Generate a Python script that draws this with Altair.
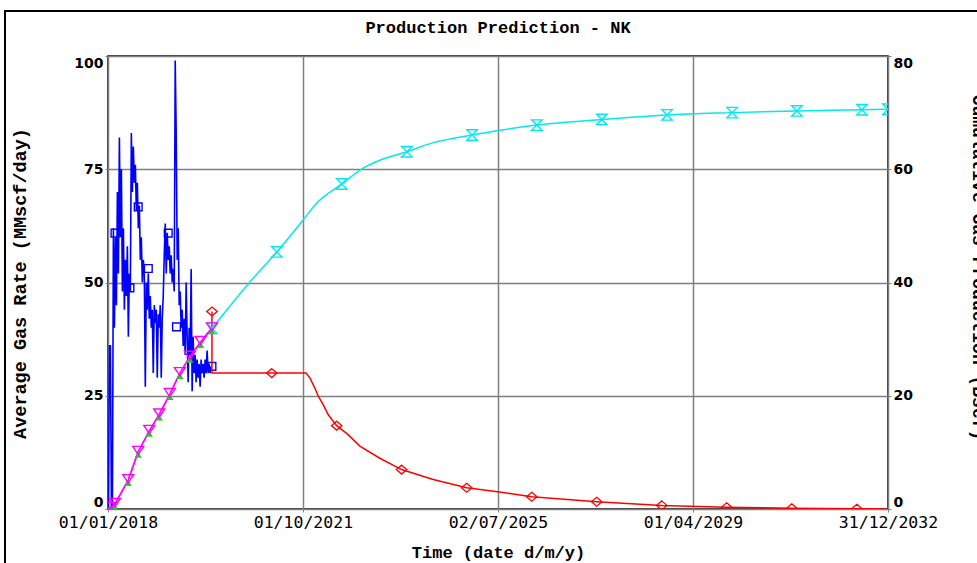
import altair as alt
import pandas as pd

TITLE = "Production Prediction - NK"
X_TITLE = "Time (date d/m/y)"
Y_LEFT_TITLE = "Average Gas Rate (MMscf/day)"
Y_RIGHT_TITLE = "Cumulative Gas Production (Bscf)"

x_tick_dates = [(2018, 1, 1), (2021, 10, 1), (2025, 7, 2), (2029, 4, 1), (2032, 12, 31)]
left_ticks = [0, 25, 50, 75, 100]
right_ticks = [0, 20, 40, 60, 80]

# historical gas rate (weekly), MMscf/day
hist_rate_start = "2018-01-04"
hist_rate_values = [0, 36, 36, 0, 0, 62, 40, 60, 45, 70,
                    52, 82, 60, 75, 48, 62, 44, 55, 47, 58,
                    38, 52, 48, 83, 70, 80, 72, 76, 66, 72,
                    62, 67, 55, 60, 50, 55, 52, 27, 50, 44,
                    52, 42, 47, 40, 44, 30, 45, 41, 44, 29,
                    43, 40, 45, 29, 42, 47, 56, 63, 52, 61,
                    55, 58, 52, 56, 50, 53, 48, 99, 83, 55,
                    62, 45, 48, 40, 44, 36, 42, 34, 50, 38,
                    28, 40, 34, 53, 26, 38, 30, 34, 28, 33,
                    29, 32, 27, 33, 30, 32, 29, 33, 30, 35,
                    30, 32, 30, 31.5]
hist_rate_marker_dates = ["2018-02-19", "2018-06-04", "2018-08-01", "2018-10-11",
                          "2019-02-28", "2019-04-27", "2020-01-01"]
hist_rate_marker_values = [60.9, 48.8, 66.7, 53.1, 60.9, 40.2, 31.5]

# predicted gas rate
pred_rate_dates = ["2020-01-01", "2020-01-01", "2021-02-24", "2021-10-23", "2021-11-20",
                   "2021-12-25", "2022-01-17", "2022-02-21", "2022-03-28", "2022-05-26",
                   "2022-08-04", "2022-11-05", "2023-03-25", "2023-08-25", "2024-04-03",
                   "2024-11-24", "2025-06-29", "2026-02-24", "2027-05-26", "2028-08-25",
                   "2029-11-24", "2031-02-24", "2032-05-26", "2032-12-18"]
pred_rate_values = [43.6, 30.0, 30.0, 30.0, 28.9, 26.6, 24.9, 23.0, 20.8, 18.4,
                    16.7, 13.9, 11.2, 8.7, 6.5, 4.7, 3.8, 2.7, 1.6, 0.8,
                    0.4, 0.15, 0.05, 0.0]
pred_rate_marker_dates = ["2020-01-01", "2021-02-24", "2022-05-26", "2023-08-25", "2024-11-24",
                          "2026-02-24", "2027-05-26", "2028-08-25", "2029-11-24", "2031-02-24",
                          "2032-05-26"]
pred_rate_marker_values = [43.6, 30.0, 18.4, 8.7, 4.7, 2.7, 1.6, 0.8, 0.4, 0.15, 0.05]

# predicted cumulative production, Bscf
pred_cum_dates = ["2020-01-01", "2020-09-24", "2021-04-01", "2021-10-01", "2022-01-05",
                  "2022-07-01", "2022-11-28", "2023-03-25", "2023-10-01", "2024-04-05",
                  "2025-01-01", "2026-04-01", "2027-07-01", "2028-10-01", "2030-01-01",
                  "2031-04-01", "2032-07-01", "2032-12-31"]
pred_cum_values = [31.9, 40.1, 45.4, 51.0, 54.0, 57.4, 60.2, 61.6, 63.1, 64.7,
                   66.05, 67.8, 68.8, 69.6, 70.0, 70.3, 70.5, 70.6]
pred_cum_marker_dates = ["2020-01-01", "2021-04-01", "2022-07-01", "2023-10-01", "2025-01-01",
                         "2026-04-01", "2027-07-01", "2028-10-01", "2030-01-01", "2031-04-01",
                         "2032-07-01", "2032-12-31"]
pred_cum_marker_values = [31.9, 45.4, 57.4, 63.1, 66.05, 67.8, 68.8, 69.6, 70.0, 70.3, 70.5, 70.6]

# historical cumulative production, Bscf
hist_cum_dates = ["2018-01-15", "2018-02-19", "2018-05-23", "2018-08-01", "2018-10-18",
                  "2018-12-27", "2019-03-11", "2019-05-21", "2019-07-30", "2019-10-13",
                  "2020-01-01"]
hist_cum_values = [0.2, 0.9, 5.1, 10.1, 13.8, 16.7, 20.3, 24.0, 26.9, 29.5, 31.9]

# ---------------------------------------------------------------- data frames
hist_rate = pd.DataFrame({
    "date": pd.date_range(hist_rate_start, periods=len(hist_rate_values), freq="7D").strftime("%Y-%m-%d"),
    "v": hist_rate_values})
hist_rate_m = pd.DataFrame({"date": hist_rate_marker_dates, "v": hist_rate_marker_values})
pred_rate = pd.DataFrame({"date": pred_rate_dates, "v": pred_rate_values,
                          "i": list(range(len(pred_rate_values)))})
pred_rate_m = pd.DataFrame({"date": pred_rate_marker_dates, "v": pred_rate_marker_values})
pred_cum = pd.DataFrame({"date": pred_cum_dates, "v": pred_cum_values})
pred_cum_m = pd.DataFrame({"date": pred_cum_marker_dates, "v": pred_cum_marker_values})
hist_cum = pd.DataFrame({"date": hist_cum_dates, "v": hist_cum_values})

GRID = "#7f7f7f"

def dt(t):
    return alt.DateTime(year=t[0], month=t[1], date=t[2], utc=True)

x_enc = alt.X(
    "date:T",
    scale=alt.Scale(type="utc", domain=[dt(x_tick_dates[0]), dt(x_tick_dates[-1])]),
    axis=alt.Axis(
        values=[dt(t) for t in x_tick_dates],
        labelExpr="utcFormat(datum.value, '%d/%m/%Y')",
        title=X_TITLE, titleFont="Liberation Mono", titleFontSize=17, titleFontWeight="bold",
        titleColor="black", titleY=48, titleBaseline="alphabetic",
        labelFont="DejaVu Sans Mono", labelFontSize=16.5, labelColor="black",
        labelPadding=2, tickSize=3, tickColor=GRID, domain=False,
        grid=True, gridColor=GRID, gridWidth=1.5, labelFlush=False,
        labelOverlap=False, labelBound=False),
)

y_left = alt.Y(
    "v:Q",
    scale=alt.Scale(domain=[0, 100], nice=False),
    axis=alt.Axis(
        values=left_ticks, format="d", title=Y_LEFT_TITLE,
        titleFont="Liberation Mono", titleFontSize=18.5, titleFontWeight="bold", titleColor="black",
        titleAngle=270, titleX=-89, titleY=227, titleAlign="center", titleBaseline="middle",
        labelFont="DejaVu Sans", labelFontWeight="bold", labelFontSize=14, labelColor="black",
        labelFlush=True, labelPadding=2, tickSize=3, tickColor=GRID, domain=False,
        grid=True, gridColor=GRID, gridWidth=1.5),
)

y_right = alt.Y(
    "v:Q",
    scale=alt.Scale(domain=[0, 80], nice=False),
    axis=alt.Axis(
        orient="right", values=right_ticks, format="d", title=Y_RIGHT_TITLE,
        titleFont="Liberation Mono", titleFontSize=18, titleFontWeight="bold", titleColor="black",
        titleAngle=90, titleX=89, titleY=211, titleAlign="center", titleBaseline="middle",
        labelFont="DejaVu Sans", labelFontWeight="bold", labelFontSize=14, labelColor="black",
        labelFlush=True, labelPadding=2, tickSize=3, tickColor=GRID, domain=False, grid=False),
)

HOURGLASS = "M-1,-1L1,-1L-1,1L1,1Z"
TRI_DOWN = "M-1,-1L1,-1L0,0.5Z"
TRI_UP_SMALL = "M0,0L0.6,1L-0.6,1Z"
DIAMOND = "M0,-0.85L1,0L0,0.85L-1,0Z"

blue_line = alt.Chart(hist_rate).mark_line(color="#0000ff", strokeWidth=1.6, clip=True).encode(x=x_enc, y=y_left)
blue_pts = alt.Chart(hist_rate_m).mark_point(shape="square", filled=False, size=60, strokeWidth=1.4,
                                            color="#0000ff", opacity=1, clip=True).encode(x=x_enc, y=y_left)
red_line = alt.Chart(pred_rate).mark_line(color="#ff0000", strokeWidth=1.5, clip=True).encode(
    x=x_enc, y=y_left, order="i:Q")
red_pts = alt.Chart(pred_rate_m).mark_point(shape=DIAMOND, filled=False, size=110, strokeWidth=1.3,
                                           color="#ff0000", opacity=1, clip=True).encode(x=x_enc, y=y_left)

cyan_line = alt.Chart(pred_cum).mark_line(color="#00e8f0", strokeWidth=1.5, interpolate="monotone",
                                          clip=True).encode(x=x_enc, y=y_right)
cyan_pts = alt.Chart(pred_cum_m).mark_point(shape=HOURGLASS, filled=False, size=110, strokeWidth=1.4,
                                           color="#00e8f0", opacity=1, clip=True).encode(x=x_enc, y=y_right)
mag_line = alt.Chart(hist_cum).mark_line(color="#ff00ff", strokeWidth=1.8, clip=True).encode(x=x_enc, y=y_right)
green_pts = alt.Chart(hist_cum).mark_point(shape=TRI_UP_SMALL, filled=True, size=144, strokeWidth=0.8,
                                          color="#22cc22", opacity=1, clip=True).encode(x=x_enc, y=y_right)
mag_pts = alt.Chart(hist_cum).mark_point(shape=TRI_DOWN, filled=False, size=120, strokeWidth=1.4,
                                        color="#ff00ff", opacity=1, clip=True).encode(x=x_enc, y=y_right)

left = alt.layer(blue_line, blue_pts, red_line, red_pts)
right = alt.layer(cyan_line, cyan_pts, mag_line, green_pts, mag_pts)

dummy = pd.DataFrame({"a": [0]})
frame = alt.Chart(dummy).mark_rect(
    fillOpacity=0, stroke="black", strokeWidth=2, clip=False).encode(
    x=alt.value(-103), x2=alt.value(1100), y=alt.value(-45), y2=alt.value(700))
title_text = alt.Chart(dummy).mark_text(
    font="Liberation Mono", fontSize=17, fontWeight="bold", color="black",
    align="center", baseline="alphabetic", clip=False).encode(
    x=alt.value(390), y=alt.value(-23), text=alt.value(TITLE))

chart = alt.layer(left, right, frame, title_text).resolve_scale(y="independent").properties(
    width=780, height=453,
    autosize=alt.AutoSizeParams(type="none"),
    padding={"left": 108, "top": 56, "right": 89, "bottom": 54},
    background="white",
).configure_view(stroke="black", strokeWidth=1.5)

chart.save("out.html", embed_options={"renderer": "svg", "actions": False})
